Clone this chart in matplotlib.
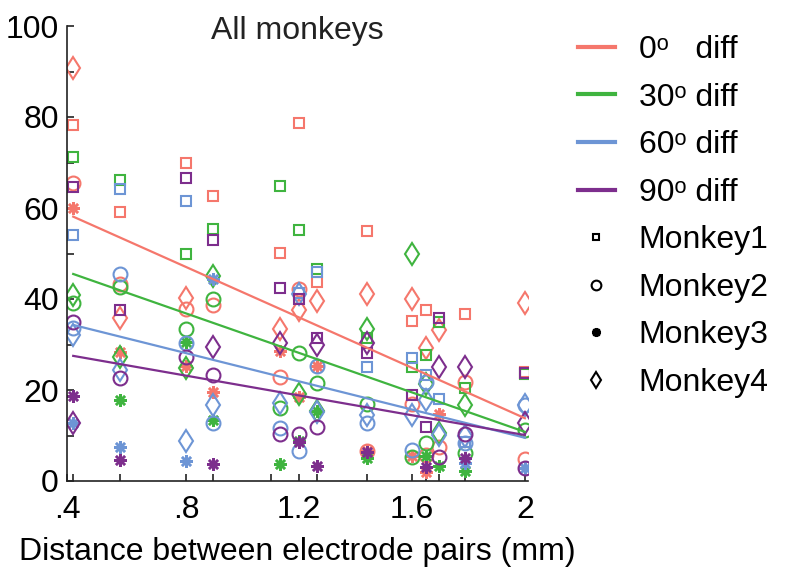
import matplotlib
matplotlib.use('Agg')
import matplotlib.pyplot as plt
from matplotlib.lines import Line2D

plt.rcParams['font.family'] = ['Liberation Sans', 'DejaVu Sans']

N = None

# Electrode-pair distances (mm)
distances = [0.4, 0.566, 0.8, 0.894, 1.131, 1.2, 1.265, 1.442, 1.6, 1.649, 1.697, 1.789, 2.0]

# Values per monkey for each orientation difference (None = no pair at that distance)
d0_m1 = [78.2, 59.2, 70.0, 62.6, 50.2, 78.6, 43.8, 55.0, 35.2, 37.6, N, 36.8, 24.0]
d0_m2 = [65.6, 43.2, 37.7, 38.7, 22.9, 42.3, N, 6.7, 16.9, 5.7, 7.4, 21.8, 4.8]
d0_m3 = [60.1, 28.4, 25.3, 19.6, 28.6, 18.5, 25.3, 6.5, 5.5, 2.0, 14.7, N, N]
d0_m4 = [90.8, 35.8, 40.3, N, 33.5, 37.6, 39.6, 41.0, 40.0, 29.3, 33.2, N, 39.1]

d30_m1 = [71.1, 66.2, 50.0, 55.4, 64.8, 55.2, 46.5, 31.4, 25.0, 27.7, 35.0, 20.5, 23.5]
d30_m2 = [39.1, 42.7, 33.5, 40.1, 16.0, 28.1, 21.6, 16.9, 5.3, 8.4, N, 6.1, 11.1]
d30_m3 = [N, 17.8, 30.5, 13.4, 3.7, 8.8, 15.3, 5.0, N, 5.6, 3.4, 2.2, N]
d30_m4 = [40.9, 27.3, 24.9, 45.0, N, 19.1, 15.4, 33.3, 50.0, 21.3, 10.5, 16.8, N]

d60_m1 = [54.1, 64.1, 61.5, N, N, 41.4, 46.0, 25.1, 27.0, 23.2, 18.0, 8.5, N]
d60_m2 = [33.6, 45.6, 30.3, 12.8, 11.6, 6.6, 25.3, 12.8, 6.8, 21.8, N, 8.3, 16.7]
d60_m3 = [12.7, 7.4, 4.3, 44.5, N, N, N, N, N, N, N, 4.0, 2.8]
d60_m4 = [32.1, 24.4, 8.8, 16.7, 17.1, 41.0, 15.2, 14.5, 14.5, 17.8, 10.1, 9.9, 16.8]

d90_m1 = [64.7, 37.6, 66.7, 53.0, 42.5, 39.9, 31.5, 28.1, 18.9, 11.9, 35.9, N, 23.7]
d90_m2 = [35.0, 22.6, 27.2, 23.3, 10.3, 10.4, 11.8, N, N, N, 5.3, 10.3, 2.9]
d90_m3 = [18.7, 4.6, N, 3.7, N, 8.6, 3.3, 6.4, N, 3.1, N, 5.0, N]
d90_m4 = [12.7, N, N, 29.5, 30.3, N, 29.9, 30.3, N, N, 25.1, 25.1, 12.8]

# Linear fits, evaluated at the ends of the distance range
fit_x = [0.4, 2.0]
fit_0 = [58.1, 13.8]
fit_30 = [45.5, 10.8]
fit_60 = [34.3, 9.5]
fit_90 = [27.5, 10.1]

cond_labels = ['0\u1d52   diff', '30\u1d52 diff', '60\u1d52 diff', '90\u1d52 diff']
monkey_labels = ['Monkey1', 'Monkey2', 'Monkey3', 'Monkey4']

# Axis ticks (the first one sits on the axis edge and carries the ".4" label)
x_ticks = [0.378, 0.4, 0.566, 0.8, 0.894, 1.1, 1.2, 1.265, 1.442, 1.6, 1.649, 1.697, 1.789, 2.0]
x_tick_labels = ['.4', '', '', '.8', '', '', '1.2', '', '', '1.6', '', '', '', '2']
y_ticks = [0, 10, 20, 30, 40, 50, 60, 70, 80, 90, 100]
y_tick_labels = ['0', '', '20', '', '40', '', '60', '', '80', '', '100']

colors = ['#F5776C', '#3FB43F', '#6D95D5', '#7D2E8D']
markers = ['s', 'o', (8, 2, 0), 'd']
msizes = [7, 10, 9, 11.5]
mews = [1.5, 1.5, 1.8, 1.5]
legend_msizes = [5, 7, 6.5, 8]

conditions = [
    ([d0_m1, d0_m2, d0_m3, d0_m4], fit_0),
    ([d30_m1, d30_m2, d30_m3, d30_m4], fit_30),
    ([d60_m1, d60_m2, d60_m3, d60_m4], fit_60),
    ([d90_m1, d90_m2, d90_m3, d90_m4], fit_90),
]

fig = plt.figure(figsize=(7.85, 5.68), dpi=100)
ax = fig.add_axes([67 / 785, 1 - 481 / 568, 461 / 785, 455 / 568])

for ci, (monkeys, fit) in enumerate(conditions):
    c = colors[ci]
    for mi, vals in enumerate(monkeys):
        xs = [d for d, v in zip(distances, vals) if v is not None]
        ys = [v for v in vals if v is not None]
        ax.plot(xs, ys, ls='none', marker=markers[mi], ms=msizes[mi],
                mfc='none', mec=c, mew=mews[mi], color=c, zorder=2)

for ci, (monkeys, fit) in enumerate(conditions):
    ax.plot(fit_x, fit, color=colors[ci], lw=1.6, zorder=3)

ax.set_xlim(0.378, 2.011)
ax.set_ylim(0, 100)
ax.set_xticks(x_ticks)
ax.set_xticklabels(x_tick_labels)
ax.set_yticks(y_ticks)
ax.set_yticklabels(y_tick_labels)
for s in ['top', 'right']:
    ax.spines[s].set_visible(False)
for s in ['left', 'bottom']:
    ax.spines[s].set_linewidth(1.2)
    ax.spines[s].set_color('#222222')
ax.tick_params(direction='in', length=5, width=1.2, color='#222222',
               labelsize=23)
ax.tick_params(axis='x', pad=10)
ax.tick_params(axis='y', pad=6)
ax.set_xlabel('Distance between electrode pairs (mm)', fontsize=23, labelpad=9)
ax.text(0.5, 0.99, 'All monkeys', transform=ax.transAxes, ha='center',
        va='center', fontsize=23, color='#222222')

handles = [Line2D([], [], color=c, lw=3) for c in colors]
handles += [Line2D([], [], ls='none', marker=m, ms=s, mfc='none',
                   mec='k', mew=w, color='k')
            for m, s, w in zip(markers, legend_msizes, mews)]
leg = fig.legend(handles, cond_labels + monkey_labels, loc='upper left',
                 bbox_to_anchor=(578 / 785, 1 - 35 / 568), frameon=False,
                 fontsize=23, handlelength=1.15, handletextpad=0.75,
                 labelspacing=0.55, borderpad=0, borderaxespad=0)

fig.savefig('out.png', dpi=100)
